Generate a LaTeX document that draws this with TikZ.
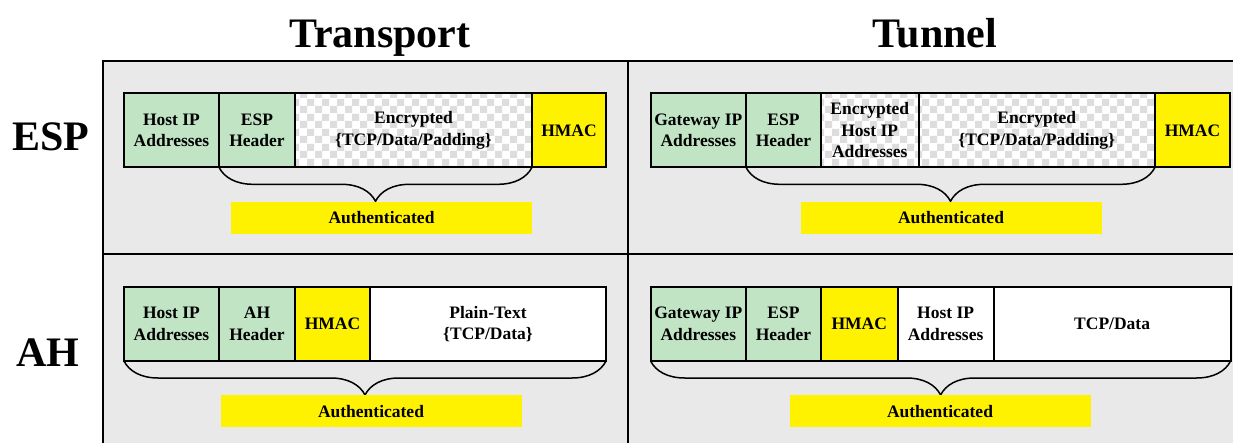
\documentclass[tikz,border=0pt]{standalone}
\usepackage{fontspec}
\setmainfont{Liberation Serif}
\usetikzlibrary{positioning}
\usetikzlibrary{patterns}
\usetikzlibrary{decorations.pathreplacing}

\definecolor{hdrgreen}{RGB}{193,228,197}
\definecolor{panelgray}{RGB}{233,233,233}
\definecolor{chkgray}{RGB}{221,221,221}

\pgfdeclarepatternformonly{bigchecker}{\pgfqpoint{0pt}{0pt}}{\pgfqpoint{15pt}{15pt}}{\pgfqpoint{15pt}{15pt}}{%
 \pgfpathrectangle{\pgfqpoint{0pt}{0pt}}{\pgfqpoint{7.5pt}{7.5pt}}%
 \pgfpathrectangle{\pgfqpoint{7.5pt}{7.5pt}}{\pgfqpoint{7.5pt}{7.5pt}}%
 \pgfusepath{fill}}

\tikzset{
 field/.style={draw=black, line width=2pt, minimum height=74pt, inner sep=0pt, outer sep=0pt,
   align=center, anchor=west, font=\fontsize{17.5}{21.5}\selectfont\bfseries},
 hdr/.style={field, fill=hdrgreen},
 mac/.style={field, fill=yellow},
 plain/.style={field, fill=white},
 enc/.style={field, preaction={fill=white}, pattern=bigchecker, pattern color=chkgray},
 auth/.style={fill=yellow, minimum width=301pt, minimum height=32pt, anchor=north,
   font=\fontsize{17.5}{21.5}\selectfont\bfseries},
 brc/.style={decorate, decoration={brace, mirror, amplitude=34pt}, line width=1.5pt},
 big/.style={font=\fontsize{42}{42}\selectfont\bfseries}
}

\begin{document}
\begin{tikzpicture}[x=1pt, y=-1pt]
\useasboundingbox (0,0) rectangle (1233,443);
\clip (0,0) rectangle (1233,443);

% panels
\fill[panelgray] (103,61) rectangle (1240,450);
\draw[line width=2.5pt] (103,450) |- (1240,61);
\draw[line width=2.5pt] (628,61) -- (628,450);
\draw[line width=2.5pt] (103,254) -- (1240,254);

\node[big, anchor=base] (transport) at (380,47.5) {Transport};
\node[big, anchor=base] (tunnel) at (935,47.5) {Tunnel};
\node[big] (esp) at (51,137) {ESP};
\node[big] (ah) at (48,353) {AH};

% ESP transport
\node[hdr, minimum width=95pt] (th) at (124,130.3) {Host IP\\Addresses};
\node[hdr, minimum width=76pt, right=0pt of th] (te) {ESP\\Header};
\node[enc, minimum width=237pt, right=0pt of te] (tc) {Encrypted\\\{TCP/Data/Padding\}};
\node[mac, minimum width=74pt, right=0pt of tc] (tm) {HMAC};
\draw[brc] (te.south west) -- (tc.south east);
\node[auth] (ta) at (381.5,201.5) {Authenticated};

% ESP tunnel
\node[hdr, minimum width=95.4pt] (ug) at (650.6,130.3) {Gateway IP\\Addresses};
\node[hdr, minimum width=75pt, right=0pt of ug] (ue) {ESP\\Header};
\node[enc, minimum width=97.5pt, right=0pt of ue] (uh) {Encrypted\\Host IP\\Addresses};
\node[enc, minimum width=236.5pt, right=0pt of uh] (uc) {Encrypted\\\{TCP/Data/Padding\}};
\node[mac, minimum width=75pt, right=0pt of uc] (um) {HMAC};
\draw[brc] (ue.south west) -- (uc.south east);
\node[auth] (ua) at (951,201.5) {Authenticated};

% AH transport
\node[hdr, minimum width=95pt] (ah1) at (124,324) {Host IP\\Addresses};
\node[hdr, minimum width=76pt, right=0pt of ah1] (ah2) {AH\\Header};
\node[mac, minimum width=75pt, right=0pt of ah2] (ah3) {HMAC};
\node[plain, minimum width=236pt, right=0pt of ah3] (ah4) {Plain-Text\\\{TCP/Data\}};
\draw[brc] (ah1.south west) -- (ah4.south east);
\node[auth] (aa) at (371,395) {Authenticated};

% AH tunnel
\node[hdr, minimum width=95.4pt] (ag) at (650.6,324) {Gateway IP\\Addresses};
\node[hdr, minimum width=75pt, right=0pt of ag] (ae) {ESP\\Header};
\node[mac, minimum width=76.6pt, right=0pt of ae] (am) {HMAC};
\node[plain, minimum width=96pt, right=0pt of am] (ai) {Host IP\\Addresses};
\node[plain, minimum width=237pt, right=0pt of ai] (ad) {TCP/Data};
\draw[brc] (ag.south west) -- (ad.south east);
\node[auth] (ab) at (940,395) {Authenticated};
\end{tikzpicture}
\end{document}
